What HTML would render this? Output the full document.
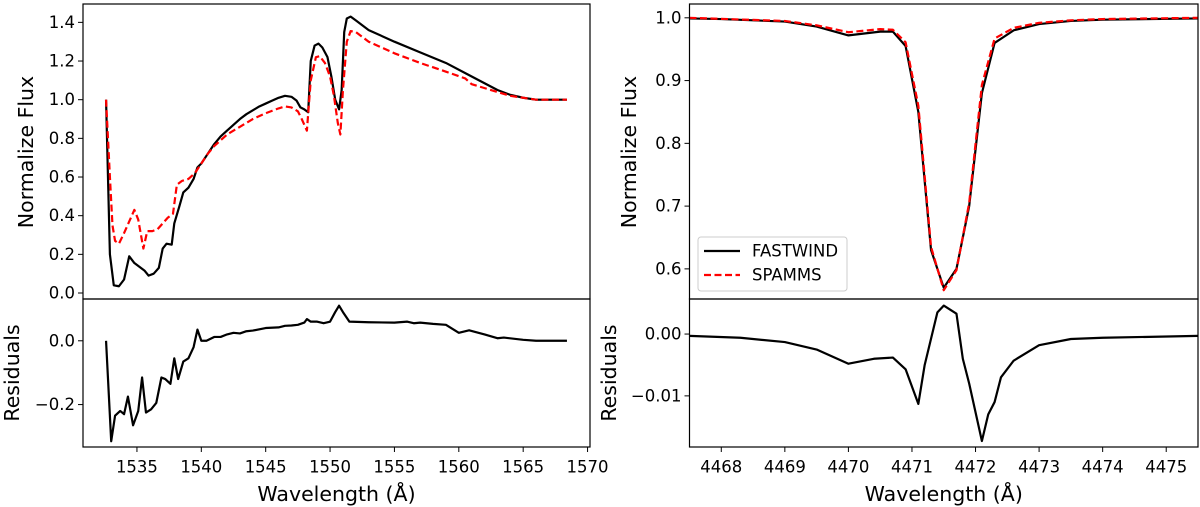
<!DOCTYPE html>
<html><head><meta charset="utf-8"><style>
html,body{margin:0;padding:0;background:#fff;}
svg{display:block;font-family:"DejaVu Sans","Liberation Sans",sans-serif;}
</style></head><body>
<svg id="chart" width="1200" height="507"></svg>
<script>
// Left panel (UV) data
const uvWave = [1532.6,1532.9,1533.2,1533.6,1534.0,1534.4,1534.8,1535.2,1535.6,1535.9,1536.3,1536.7,1537.0,1537.3,1537.7,1537.9,1538.3,1538.6,1539.0,1539.4,1539.7,1540.0,1540.5,1541.0,1541.5,1542.0,1542.5,1543.0,1543.5,1544.0,1544.5,1545.0,1545.5,1546.0,1546.5,1547.0,1547.4,1547.7,1548.0,1548.3,1548.5,1548.8,1549.1,1549.4,1549.8,1550.1,1550.4,1550.7,1550.9,1551.1,1551.3,1551.6,1552.0,1553,1555,1557,1559,1561,1563,1564,1565,1566,1568.4];
const uvFastwind = [1.0,0.2,0.04,0.035,0.07,0.19,0.155,0.135,0.115,0.09,0.10,0.13,0.23,0.255,0.25,0.36,0.45,0.52,0.545,0.59,0.65,0.67,0.72,0.77,0.81,0.84,0.87,0.90,0.925,0.945,0.965,0.98,0.995,1.01,1.02,1.015,0.995,0.96,0.95,0.935,1.2,1.28,1.29,1.27,1.22,1.12,1.0,0.95,1.05,1.35,1.42,1.43,1.41,1.36,1.30,1.245,1.19,1.12,1.05,1.025,1.01,1.0,1.0];
const uvWaveRed = [1532.6,1532.9,1533.1,1533.3,1533.6,1534.0,1534.4,1534.8,1535.1,1535.5,1535.8,1536.2,1536.6,1537.0,1537.4,1537.8,1538.1,1538.5,1539.0,1539.5,1540.0,1540.5,1541,1542,1543,1544,1545,1546,1546.5,1547.0,1547.5,1547.8,1548.2,1548.5,1548.9,1549.2,1549.6,1550.0,1550.3,1550.6,1550.8,1551.0,1551.3,1551.6,1552.0,1553,1555,1557,1559,1560.5,1561,1563,1564,1566,1568.4];
const uvSpamms = [1.0,0.6,0.35,0.27,0.255,0.31,0.37,0.43,0.38,0.23,0.32,0.32,0.33,0.36,0.39,0.41,0.56,0.58,0.59,0.62,0.67,0.72,0.76,0.82,0.86,0.9,0.93,0.955,0.965,0.96,0.94,0.9,0.84,1.1,1.22,1.225,1.19,1.12,1.02,0.88,0.82,1.05,1.3,1.355,1.35,1.3,1.24,1.19,1.145,1.11,1.08,1.04,1.02,1.0,1.0];
const uvResWave = [1532.6,1533.0,1533.3,1533.7,1534.0,1534.3,1534.7,1535.1,1535.4,1535.7,1536.1,1536.5,1536.9,1537.2,1537.6,1537.9,1538.2,1538.6,1539.0,1539.4,1539.7,1540.0,1540.4,1541,1541.5,1542,1542.5,1543,1543.5,1544,1545,1546,1546.5,1547,1547.5,1548,1548.2,1548.5,1549,1549.5,1550,1550.4,1550.7,1551,1551.5,1553,1555,1556,1556.5,1557,1558,1559,1560,1560.8,1562,1563,1563.5,1565,1566,1568.4];
const uvResid = [0.0,-0.315,-0.235,-0.22,-0.23,-0.175,-0.265,-0.22,-0.115,-0.225,-0.215,-0.195,-0.115,-0.12,-0.135,-0.055,-0.12,-0.065,-0.055,-0.02,0.035,0.0,0.0,0.012,0.012,0.02,0.025,0.023,0.03,0.032,0.04,0.042,0.047,0.048,0.05,0.057,0.068,0.06,0.06,0.055,0.06,0.09,0.11,0.09,0.06,0.058,0.057,0.06,0.055,0.057,0.053,0.05,0.025,0.033,0.02,0.008,0.01,0.003,0.0,0.0];
const uvXTicks = [1535,1540,1545,1550,1555,1560,1565,1570];
const uvYTicks = [0.0,0.2,0.4,0.6,0.8,1.0,1.2,1.4];
const uvRTicks = [0.0,-0.2];
// Right panel (optical) data
const opWave = [4467.5,4468,4469,4469.5,4470,4470.5,4470.7,4470.9,4471.1,4471.3,4471.5,4471.7,4471.9,4472.1,4472.3,4472.6,4473,4473.5,4474,4475.5];
const opFastwind = [0.999,0.998,0.994,0.986,0.972,0.978,0.978,0.955,0.85,0.63,0.57,0.60,0.70,0.88,0.96,0.98,0.99,0.995,0.997,0.999];
const opWaveRed = [4467.5,4469,4469.5,4470,4470.5,4470.7,4470.9,4471.1,4471.3,4471.5,4471.7,4471.9,4472.1,4472.3,4472.6,4473,4473.5,4474,4475.5];
const opSpamms = [1.0,0.995,0.988,0.977,0.982,0.981,0.961,0.86,0.635,0.566,0.598,0.705,0.893,0.967,0.984,0.992,0.996,0.998,1.0];
const opResWave = [4467.5,4468.3,4469,4469.5,4470,4470.4,4470.7,4470.9,4471.1,4471.2,4471.4,4471.5,4471.7,4471.8,4471.9,4472.1,4472.2,4472.3,4472.4,4472.6,4473,4473.5,4474,4475.5];
const opResid = [-0.0003,-0.0006,-0.0013,-0.0025,-0.0048,-0.004,-0.0038,-0.0057,-0.0113,-0.005,0.0035,0.0046,0.0033,-0.004,-0.008,-0.0173,-0.013,-0.011,-0.007,-0.0043,-0.0018,-0.0008,-0.0006,-0.0003];
const opXTicks = [4468,4469,4470,4471,4472,4473,4474,4475];
const opYTicks = [0.6,0.7,0.8,0.9,1.0];
const opRTicks = [0.00,-0.01];

const NS='http://www.w3.org/2000/svg';
const svg=document.getElementById('chart');
function mk(tag,attrs,parent){const e=document.createElementNS(NS,tag);for(const k in attrs)e.setAttribute(k,attrs[k]);(parent||svg).appendChild(e);return e;}
function lin(d0,d1,r0,r1){return v=>r0+(v-d0)*(r1-r0)/(d1-d0);}
function line(xs,ys,sx,sy,color,dash,name){
  const p=xs.map((x,i)=>(i?'L':'M')+sx(x).toFixed(2)+','+sy(ys[i]).toFixed(2)).join('');
  const el=mk('path',{d:p,fill:'none',stroke:color,'stroke-width':2.2,'stroke-linejoin':'round'});
  if(dash)el.setAttribute('stroke-dasharray',dash);
  
  
  return el;
}
function text(x,y,s,anchor,size,name,rot){
  const t=mk('text',{x:x,y:y,'text-anchor':anchor,'font-size':size,fill:'#000','dominant-baseline':'central'});
  if(rot)t.setAttribute('transform','rotate(-90 '+x+' '+y+')');
  t.textContent=s;
  
  
  return t;
}
function fmt(v,d){return v<0?'\u2212'+Math.abs(v).toFixed(d):v.toFixed(d);}
function panel(cfg){
  const L=cfg.L,R=cfg.R,T=4,M=299,B=447;
  const sx=lin(cfg.x0,cfg.x1,L,R);
  const sy=lin(cfg.y0,cfg.y1,M,T);
  const sr=lin(cfg.r0,cfg.r1,B,M);
  const clipId='c'+cfg.id, clipR='r'+cfg.id;
  const defs=mk('defs',{});
  const c1=mk('clipPath',{id:clipId},defs);mk('rect',{x:L,y:T,width:R-L,height:M-T},c1);
  const c2=mk('clipPath',{id:clipR},defs);mk('rect',{x:L,y:M,width:R-L,height:B-M},c2);
  const g1=mk('g',{'clip-path':'url(#'+clipId+')'});
  
  
  const b=line(cfg.w,cfg.f,sx,sy,'#000',null,cfg.id+'-fastwind-line');g1.appendChild(b);
  const r=line(cfg.wr,cfg.s,sx,sy,'#f00','7,3.5',cfg.id+'-spamms-line');g1.appendChild(r);
  const g2=mk('g',{'clip-path':'url(#'+clipR+')'});
  
  
  const rl=line(cfg.rw,cfg.res,sx,sr,'#000',null,cfg.id+'-residual-line');g2.appendChild(rl);
  const f1=mk('rect',{x:L,y:T,width:R-L,height:M-T,fill:'none',stroke:'#000','stroke-width':1.2});
  
  
  const f2=mk('rect',{x:L,y:M,width:R-L,height:B-M,fill:'none',stroke:'#000','stroke-width':1.2});
  
  
  cfg.xt.forEach(v=>{const x=sx(v);mk('line',{x1:x,x2:x,y1:B,y2:B+5,stroke:'#000','stroke-width':1});text(x,467,String(v),'middle',16.5,cfg.id+'-x-tick-label');});
  cfg.yt.forEach(v=>{const y=sy(v);mk('line',{x1:L-5,x2:L,y1:y,y2:y,stroke:'#000','stroke-width':1});text(L-8,y,v.toFixed(1),'end',16.5,cfg.id+'-y-tick-label');});
  cfg.rt.forEach(v=>{const y=sr(v);mk('line',{x1:L-5,x2:L,y1:y,y2:y,stroke:'#000','stroke-width':1});text(L-8,y,fmt(v,cfg.rd),'end',16.5,cfg.id+'-residual-tick-label');});
  text((L+R)/2,494,'Wavelength (\u00c5)','middle',20.5,cfg.id+'-x-axis-title');
  text(cfg.ylx,152,'Normalize Flux','middle',20.5,cfg.id+'-y-axis-title',true);
  text(cfg.rlx,373,'Residuals','middle',20.5,cfg.id+'-residual-axis-title',true);
}
panel({id:'uv',L:83,R:590,x0:1530.81,x1:1570.19,y0:-0.031,y1:1.495,r0:-0.333,r1:0.131,
  w:uvWave,f:uvFastwind,wr:uvWaveRed,s:uvSpamms,rw:uvResWave,res:uvResid,xt:uvXTicks,yt:uvYTicks,rt:uvRTicks,rd:1,ylx:26,rlx:12});
panel({id:'optical',L:689.5,R:1198,x0:4467.5,x1:4475.5,y0:0.552,y1:1.022,r0:-0.01827,r1:0.00567,
  w:opWave,f:opFastwind,wr:opWaveRed,s:opSpamms,rw:opResWave,res:opResid,xt:opXTicks,yt:opYTicks,rt:opRTicks,rd:2,ylx:629,rlx:609});
// legend
const lg=mk('g',{});


mk('rect',{x:698,y:237,width:149,height:54,rx:3,fill:'#fff',stroke:'#ccc','stroke-width':1},lg);
const l1=mk('line',{x1:704,x2:740,y1:251,y2:251,stroke:'#000','stroke-width':2.2},lg);


const l2=mk('line',{x1:704,x2:740,y1:275,y2:275,stroke:'#f00','stroke-width':2.2,'stroke-dasharray':'7,3.5'},lg);


lg.appendChild(text(752,251,'FASTWIND','start',16.5,'legend-fastwind-label'));
lg.appendChild(text(752,275,'SPAMMS','start',16.5,'legend-spamms-label'));
</script>
</body></html>
